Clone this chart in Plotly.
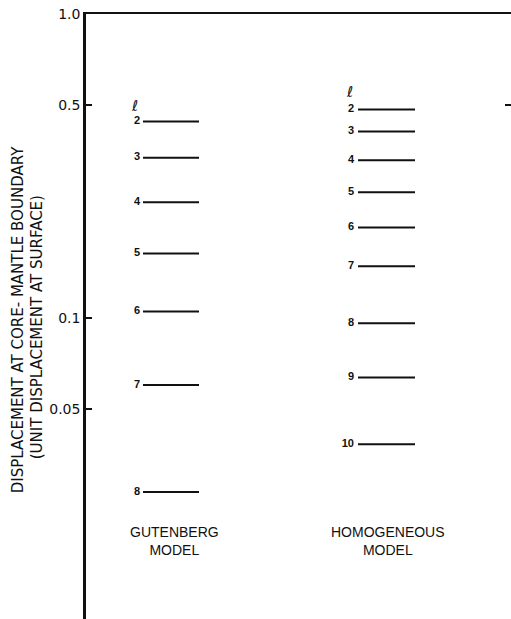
import plotly.graph_objects as go

# Displacement at the core-mantle boundary for each angular order l
gutenberg_l = [2, 3, 4, 5, 6, 7, 8]
gutenberg_disp = [0.443, 0.3365, 0.240, 0.1626, 0.1048, 0.060, 0.0267]

homogeneous_l = [2, 3, 4, 5, 6, 7, 8, 9, 10]
homogeneous_disp = [0.485, 0.410, 0.330, 0.259, 0.198, 0.1477, 0.0959, 0.0636, 0.0383]

y_tick_vals = [1.0, 0.5, 0.1, 0.05]
y_tick_text = ["1.0", "0.5", "0.1", "0.05"]

model_names = ["GUTENBERG<br>MODEL", "HOMOGENEOUS<br>MODEL"]

INK = "#111111"
FONT = "Liberation Sans, Arial, sans-serif"
WIDE = "DejaVu Sans, sans-serif"

# horizontal placement of each column of levels (x axis is unitless)
columns = [
    dict(l=gutenberg_l, v=gutenberg_disp, x0=57, x1=113, lx=54, name=model_names[0],
         cx=88.5, lsym=48, lsym_y=-0.304),
    dict(l=homogeneous_l, v=homogeneous_disp, x0=272, x1=329, lx=268, name=model_names[1],
         cx=302, lsym=263, lsym_y=-0.258),
]

fig = go.Figure()

for col in columns:
    xs, ys = [], []
    for val in col["v"]:
        xs += [col["x0"], col["x1"], None]
        ys += [val, val, None]
    fig.add_trace(go.Scatter(
        x=xs, y=ys, mode="lines",
        line=dict(color=INK, width=2),
        hoverinfo="skip", showlegend=False,
    ))
    fig.add_trace(go.Scatter(
        x=[col["lx"]] * len(col["v"]), y=col["v"],
        mode="text", text=[str(l) for l in col["l"]],
        textposition="middle left",
        textfont=dict(family=FONT, size=11, color=INK, weight="bold"),
        hoverinfo="skip", showlegend=False,
    ))

# right-hand tick mark of the frame
fig.add_trace(go.Scatter(x=[None], y=[None], yaxis="y2", showlegend=False, hoverinfo="skip"))

annotations = []
for col in columns:
    # script-l header above the column (annotation y on a log axis is log10)
    annotations.append(dict(x=col["lsym"], y=col["lsym_y"], xref="x", yref="y",
                            text="ℓ", showarrow=False, yanchor="middle",
                            font=dict(family="DejaVu Sans", size=15, color=INK)))
    # model name under the column
    annotations.append(dict(x=col["cx"], y=-1.735, xref="x", yref="y",
                            text=col["name"], showarrow=False, align="center",
                            yanchor="middle",
                            font=dict(family=FONT, size=14, color=INK)))

W, H = 511, 619
L, T = 86, 13.5


def px_to_paper(px, py):
    return (px - L) / (W - L), (H - py) / (H - T)


# axis title, two rotated lines
for text, px, py in [("DISPLACEMENT AT CORE- MANTLE BOUNDARY", 18, 320),
                     ("(UNIT DISPLACEMENT AT SURFACE)", 37, 327)]:
    ax, ay = px_to_paper(px, py)
    annotations.append(dict(x=ax, y=ay, xref="paper", yref="paper", text=text,
                            xanchor="center", yanchor="middle",
                            showarrow=False, textangle=-90,
                            font=dict(family=WIDE, size=15, color=INK)))

y_range = [-1.992, 0]

fig.update_layout(
    width=W, height=H,
    margin=dict(l=L, r=0, t=T, b=0, pad=0),
    paper_bgcolor="white", plot_bgcolor="white",
    annotations=annotations,
    xaxis=dict(range=[0, 425], side="top", showline=True, linecolor=INK, linewidth=2,
               showticklabels=False, ticks="", showgrid=False, zeroline=False),
    yaxis=dict(type="log", range=y_range, tickvals=y_tick_vals, ticktext=y_tick_text,
               ticks="inside", ticklen=6, tickwidth=2, tickcolor=INK,
               showline=True, linecolor=INK, linewidth=2.5,
               showgrid=False, zeroline=False,
               tickfont=dict(family=WIDE, size=14, color=INK)),
    yaxis2=dict(type="log", range=y_range, overlaying="y", side="right",
                tickvals=[0.5], ticks="inside", ticklen=6, tickwidth=2, tickcolor=INK,
                showticklabels=False, showline=False, showgrid=False, zeroline=False),
)

fig.write_html("out.html")
